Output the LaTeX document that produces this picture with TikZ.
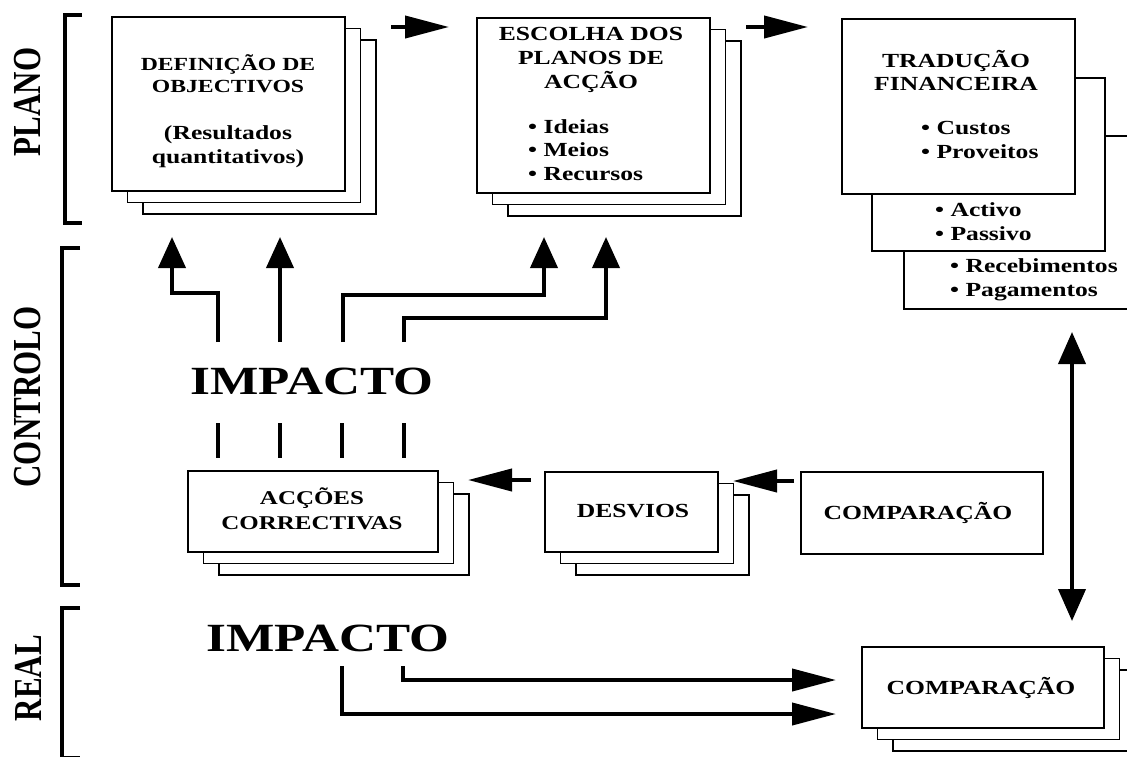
\documentclass[tikz,border=0pt]{standalone}
\usepackage{fontspec}
\usepackage{graphicx}
\setmainfont{Liberation Serif}
\usetikzlibrary{arrows.meta}

% wide lettering: a centred or left-aligned block stretched horizontally
\newcommand\wtxt[2]{\scalebox{1.28}[1]{\begin{tabular}{@{}#1@{}}#2\end{tabular}}}

\tikzset{
  pane/.style={draw, line width=1.8pt, fill=white, inner sep=0pt, anchor=north west},
  title/.style={font=\bfseries\fontsize{20}{23.5}\selectfont, inner sep=0pt},
  items/.style={font=\bfseries\fontsize{20}{23.5}\selectfont, anchor=west, inner sep=0pt},
  impact/.style={font=\bfseries\fontsize{40}{40}\selectfont, inner sep=0pt},
  level/.style={font=\bfseries\fontsize{31}{31}\selectfont, rotate=90, inner sep=0pt},
  bracket/.style={line width=3.5pt},
  flow/.style={line width=4pt, -{Triangle[length=44pt,width=22pt]}},
  rise/.style={line width=4pt, -{Triangle[length=31pt,width=27pt]}},
  link/.style={line width=4pt},
  both/.style={line width=4pt, {Triangle[length=32pt,width=27pt]}-{Triangle[length=32pt,width=27pt]}},
}

% three stacked sheets: name, left, top, width, height
\newcommand\paneset[5]{%
  \node[pane, minimum width=#4pt, minimum height=#5pt] (#1c) at (#2+31,#3+23) {};
  \node[pane, minimum width=#4pt, minimum height=#5pt] (#1b) at (#2+15.5,#3+11.5) {};
  \node[pane, minimum width=#4pt, minimum height=#5pt] (#1) at (#2,#3) {};
}

\begin{document}
\begin{tikzpicture}[x=1pt, y=-1pt]
  \useasboundingbox (0,0) rectangle (1127,756);
  \fill[white] (0,0) rectangle (1127,756);
  \clip (0,0) rectangle (1127,756);

  % level brackets and labels
  \draw[bracket] (82,15) -- (65,15) -- (65,223) -- (82,223);
  \draw[bracket] (80,248) -- (62,248) -- (62,585) -- (80,585);
  \draw[bracket] (80,608) -- (62,608) -- (62,758) -- (80,758);
  \node[level] (plano) at (28,102) {\scalebox{1}[1.28]{PLANO}};
  \node[level] (controlo) at (28,397) {\scalebox{1}[1.28]{CONTROLO}};
  \node[level] (real) at (28,678) {\scalebox{1}[1.28]{REAL}};

  % plan boxes
  \paneset{def}{111}{16}{233}{174}
  \node[title, font=\bfseries\fontsize{18.5}{22.5}\selectfont] (defT) at (228,77) {\wtxt{c}{DEFINIÇÃO DE\\OBJECTIVOS}};
  \node[title] (defS) at (228,147) {\wtxt{c}{(Resultados\\quantitativos)}};

  \paneset{esc}{476}{17}{233}{175}
  \node[title] (escT) at (591,60) {\wtxt{c}{ESCOLHA DOS\\PLANOS DE\\ACÇÃO}};
  \node[items] (escI) at (528,152) {\wtxt{l}{• Ideias\\• Meios\\• Recursos}};

  \node[pane, minimum width=233pt, minimum height=173pt] (trac) at (903,135) {};
  \node[pane, minimum width=233pt, minimum height=173pt] (trab) at (871,77) {};
  \node[pane, minimum width=233pt, minimum height=175pt] (tra) at (841,18) {};
  \node[title] (traT) at (956,74) {\wtxt{c}{TRADUÇÃO\\FINANCEIRA}};
  \node[items] (traI) at (921,142) {\wtxt{l}{• Custos\\• Proveitos}};
  \node[items] (traJ) at (935,224) {\wtxt{l}{• Activo\\• Passivo}};
  \node[items] (traK) at (950,280) {\wtxt{l}{• Recebimentos\\• Pagamentos}};

  % control boxes
  \paneset{acc}{187}{470}{250}{81}
  \node[title, font=\bfseries\fontsize{19.5}{25}\selectfont] (accT) at (312,512) {\wtxt{c}{ACÇÕES\\CORRECTIVAS}};
  \paneset{des}{544}{471}{173}{80}
  \node[title] (desT) at (633,513) {\wtxt{c}{DESVIOS}};
  \node[pane, minimum width=242pt, minimum height=82pt] (cmpc) at (800,471) {};
  \node[title] (cmpcT) at (918,514) {\wtxt{c}{COMPARAÇÃO}};

  % real box
  \paneset{cmpr}{861}{646}{242}{81}
  \node[title] (cmprT) at (981,689) {\wtxt{c}{COMPARAÇÃO}};

  % impact labels
  \node[impact] (impC) at (312,386) {\wtxt{c}{IMPACTO}};
  \node[impact] (impR) at (328,643) {\wtxt{c}{IMPACTO}};

  % connector end points
  \coordinate (p1s) at (391,27);  \coordinate (p1e) at (449,27);
  \coordinate (p2s) at (746,27);  \coordinate (p2e) at (808,27);
  \coordinate (u1) at (218,342);  \coordinate (t1) at (172,237);
  \coordinate (u2) at (280,342);  \coordinate (t2) at (280,237);
  \coordinate (u3) at (343,342);  \coordinate (t3) at (544,237);
  \coordinate (u4) at (404,342);  \coordinate (t4) at (606,237);
  \coordinate (d1) at (218,423);  \coordinate (e1) at (218,458);
  \coordinate (d2) at (280,423);  \coordinate (e2) at (280,458);
  \coordinate (d3) at (342,423);  \coordinate (e3) at (342,458);
  \coordinate (d4) at (404,423);  \coordinate (e4) at (404,458);
  \coordinate (v1) at (1072,332); \coordinate (v2) at (1072,621);
  \coordinate (c1s) at (794,481); \coordinate (c1e) at (733,481);
  \coordinate (c2s) at (531,480); \coordinate (c2e) at (468,480);
  \coordinate (r1s) at (403,666); \coordinate (r1e) at (836,680);
  \coordinate (r2s) at (342,666); \coordinate (r2e) at (836,714);

  % plan flow
  \draw[flow] (p1s) -- (p1e);
  \draw[flow] (p2s) -- (p2e);

  % impact of corrective actions on the plan
  \draw[rise] (u1) -- (218,293) -- (172,293) -- (t1);
  \draw[rise] (u2) -- (t2);
  \draw[rise] (u3) -- (343,295) -- (544,295) -- (t3);
  \draw[rise] (u4) -- (404,318) -- (606,318) -- (t4);
  \draw[link] (d1) -- (e1);
  \draw[link] (d2) -- (e2);
  \draw[link] (d3) -- (e3);
  \draw[link] (d4) -- (e4);

  % control loop
  \draw[both] (v1) -- (v2);
  \draw[flow] (c1s) -- (c1e);
  \draw[flow] (c2s) -- (c2e);

  % real impact
  \draw[flow] (r1s) |- (r1e);
  \draw[flow] (r2s) |- (r2e);
\end{tikzpicture}
\end{document}
